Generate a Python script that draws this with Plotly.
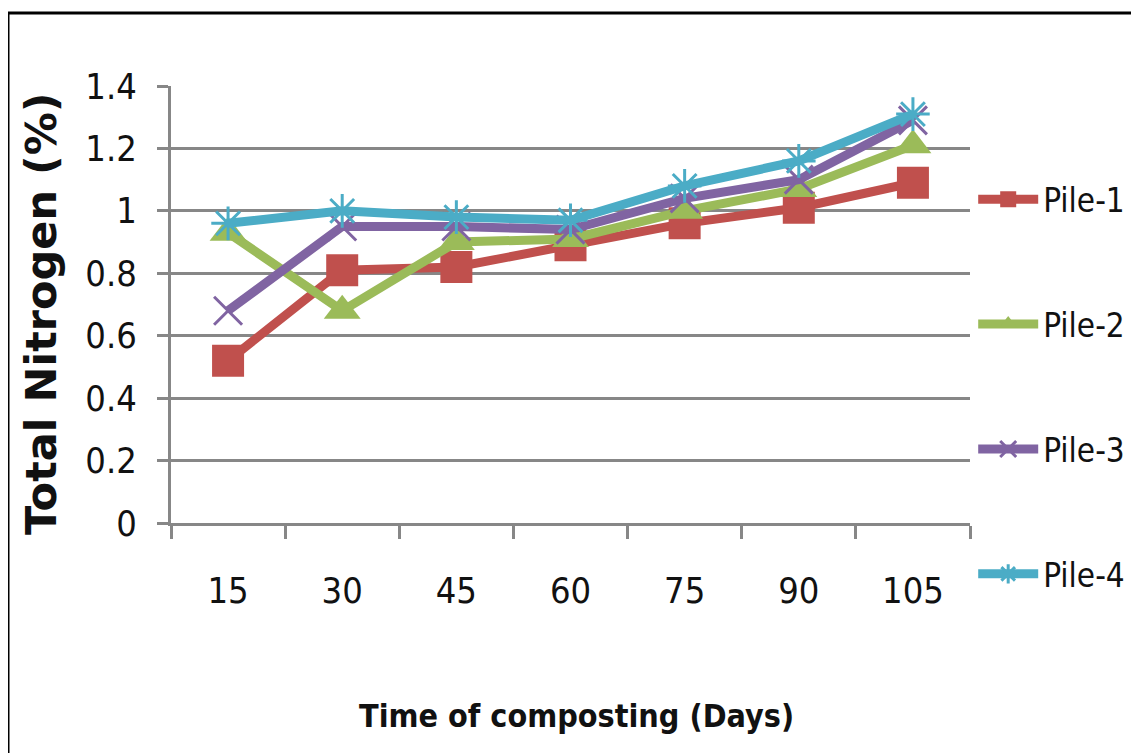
import plotly.graph_objects as go

days = ["15", "30", "45", "60", "75", "90", "105"]
pile_1 = [0.52, 0.81, 0.82, 0.89, 0.96, 1.01, 1.09]
pile_2 = [0.93, 0.68, 0.90, 0.91, 1.00, 1.07, 1.21]
pile_3 = [0.68, 0.95, 0.95, 0.94, 1.04, 1.10, 1.29]
pile_4 = [0.96, 1.00, 0.98, 0.97, 1.08, 1.16, 1.31]
series_names = ["Pile-1", "Pile-2", "Pile-3", "Pile-4"]
y_ticks = [0, 0.2, 0.4, 0.6, 0.8, 1.0, 1.2, 1.4]
y_tick_text = ["0", "0.2", "0.4", "0.6", "0.8", "1", "1.2", "1.4"]

colors = ["#C0504D", "#9BBB59", "#8064A2", "#4BACC6"]
symbols = ["square", "triangle-up", "x-thin-open", "asterisk-open"]
sizes = [32, 32, 28, 28]
values = [pile_1, pile_2, pile_3, pile_4]

NARROW = "DejaVu Sans Condensed, Liberation Sans, Arial, sans-serif"

fig = go.Figure()
for i, (name, vals) in enumerate(zip(series_names, values)):
    open_sym = symbols[i].endswith("open")
    fig.add_trace(go.Scatter(
        x=days, y=vals, name=name, mode="lines+markers",
        legendgroup=name,
        line=dict(color=colors[i], width=9),
        marker=dict(symbol=symbols[i], size=sizes[i], color=colors[i],
                    line=dict(color=colors[i], width=3 if open_sym else 0)),
    ))

fig.update_layout(
    width=1139, height=753,
    paper_bgcolor="white", plot_bgcolor="white",
    margin=dict(l=163, r=177, t=78, b=238),
    font=dict(family=NARROW, size=36, color="#111111"),
    showlegend=True,
    legend=dict(x=1.004, xanchor="left", y=0.805, yanchor="top",
                font=dict(family=NARROW, size=33, color="#111111"),
                tracegroupgap=79, bgcolor="rgba(0,0,0,0)", itemwidth=60),
    xaxis=dict(type="category", range=[-0.5, 6.5], tickson="boundaries",
               ticks="outside", ticklen=13, tickwidth=3, tickcolor="#878787",
               showline=True, linecolor="#878787", linewidth=3,
               showgrid=False, ticklabelstandoff=34,
               tickfont=dict(family=NARROW, size=36, color="#111111")),
    yaxis=dict(range=[0, 1.4], tickvals=y_ticks, ticktext=y_tick_text,
               ticks="outside", ticklen=11, tickwidth=3, tickcolor="#878787",
               showline=True, linecolor="#878787", linewidth=3,
               showgrid=True, gridcolor="#878787", gridwidth=3,
               zeroline=False, ticklabelstandoff=13,
               tickfont=dict(family=NARROW, size=36, color="#111111")),
    annotations=[
        dict(text="<b>Total Nitrogen (%)</b>", textangle=-90,
             xref="paper", yref="paper", x=(41 - 171) / 799, y=(523 - 314) / 437,
             xanchor="center", yanchor="middle", showarrow=False,
             font=dict(family="DejaVu Sans, sans-serif", size=43, color="#111111")),
        dict(text="<b>Time of composting (Days)</b>",
             xref="paper", yref="paper", x=(576 - 171) / 799, y=(523 - 716) / 437,
             xanchor="center", yanchor="middle", showarrow=False,
             font=dict(family=NARROW, size=32, color="#111111")),
    ],
    shapes=[dict(type="rect", xref="paper", yref="paper",
                 x0=(8 - 171) / 799, x1=(1170 - 171) / 799,
                 y0=(523 - 790) / 437, y1=(523 - 13) / 437,
                 line=dict(color="black", width=3), fillcolor="rgba(0,0,0,0)",
                 layer="below")],
)

fig.write_html("out.html")
